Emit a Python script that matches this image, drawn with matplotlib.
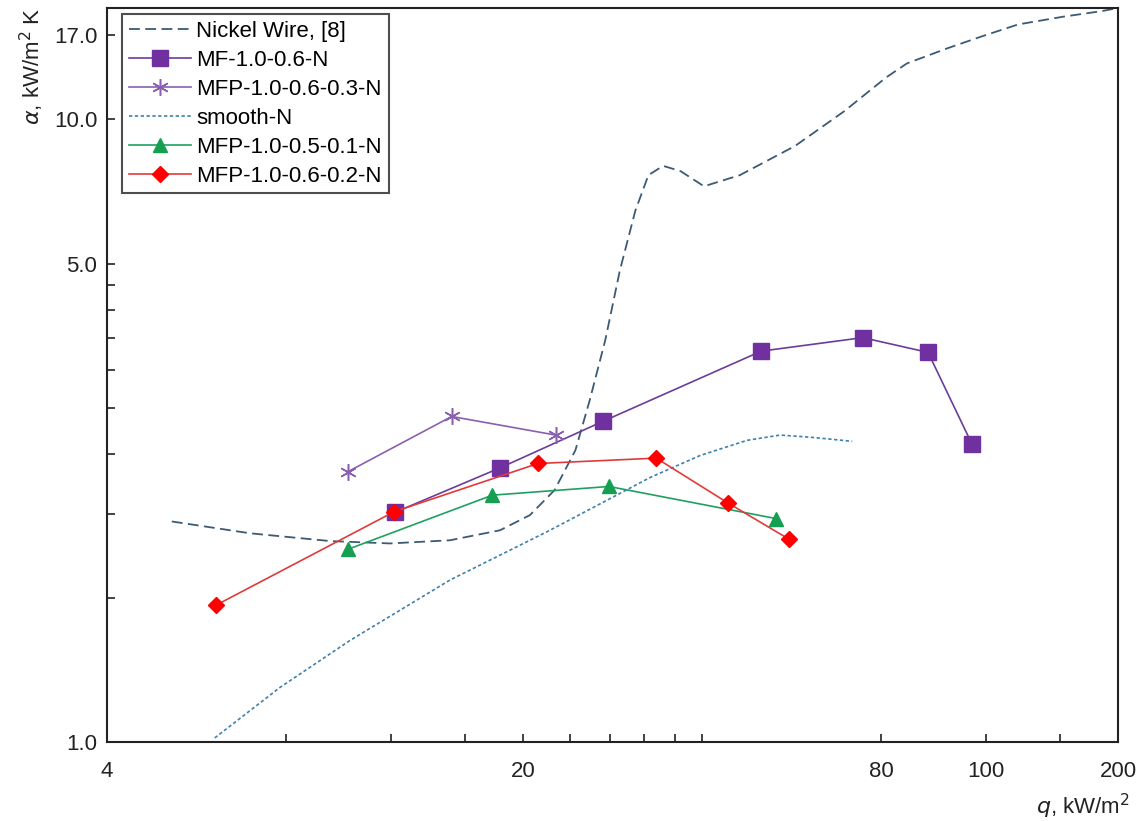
import matplotlib.pyplot as plt
from matplotlib.ticker import FixedLocator, FixedFormatter, NullFormatter

plt.rcParams['font.family'] = ['Liberation Sans', 'DejaVu Sans']

# Dados (q em kW/m2, alfa em kW/m2 K, escala log do original)
nickel_q = [5.14, 6.96, 9.48, 11.96, 15.08, 18.3, 20.55, 22.6, 24.5, 25.9, 27.5, 29.1,
            30.9, 32.5, 34.4, 36.8, 40.3, 46.3, 57.3, 69.3, 81.6, 88.4, 103.6, 118.7,
            135.9, 161.8, 188.0, 200.0]
nickel_a = [2.89, 2.73, 2.63, 2.60, 2.64, 2.77, 2.98, 3.36, 4.07, 5.18, 6.91, 9.67,
            12.9, 15.3, 16.0, 15.6, 14.5, 15.3, 17.6, 20.8, 24.5, 26.2, 28.2, 29.9,
            31.6, 32.8, 33.7, 34.2]

mf_q = [12.19, 18.3, 27.27, 50.3, 74.5, 95.9, 113.6]
mf_a = [3.02, 3.74, 4.68, 6.56, 7.00, 6.52, 4.20]

mfp03_q = [10.15, 15.18, 22.7]
mfp03_a = [3.67, 4.79, 4.38]

smooth_q = [6.07, 7.81, 10.24, 15.08, 22.2, 32.7, 39.7, 47.6, 54.1, 61.5, 71.5]
smooth_a = [1.02, 1.30, 1.63, 2.18, 2.77, 3.57, 3.97, 4.27, 4.38, 4.33, 4.25]

mfp01_q = [10.18, 17.77, 27.9, 53.3]
mfp01_a = [2.53, 3.28, 3.42, 2.93]

mfp02_q = [6.09, 12.16, 21.2, 33.5, 44.2, 56.1]
mfp02_a = [1.93, 3.03, 3.82, 3.92, 3.16, 2.65]

# Ticks do original
x_major = [4, 20, 80, 120, 200]
x_labels = ["4", "20", "80", "100", "200"]
x_minor = [8, 12, 16, 24, 28, 32, 36, 40, 160]
y_major = [1, 10, 20, 30]
y_labels = ["1.0", "5.0", "10.0", "17.0"]
y_minor = [2, 3, 4, 5, 6, 7, 8, 9]

fig = plt.figure(figsize=(11.44, 8.21), dpi=100)
ax = fig.add_axes([107 / 1144, 1 - 742 / 821, 1011 / 1144, 734 / 821])

ax.plot(nickel_q, nickel_a, linestyle=(0, (6, 3)), color="#3d5a73", lw=1.3,
        label="Nickel Wire, [8]")
ax.plot(mf_q, mf_a, color="#6a3d9a", lw=1.2, marker="s", ms=11,
        mfc="#7030a0", mec="#7030a0", label="MF-1.0-0.6-N")
ax.plot(mfp03_q, mfp03_a, color="#8a5fb0", lw=1.2, marker=(6, 2, 0), ms=12,
        mew=1.1, label="MFP-1.0-0.6-0.3-N")
ax.plot(smooth_q, smooth_a, linestyle=(0, (2, 1.5)), color="#3f80ac", lw=1.2,
        label="smooth-N")
ax.plot(mfp01_q, mfp01_a, color="#20a060", lw=1.2, marker="^", ms=10,
        mfc="#14a050", mec="#14a050", label="MFP-1.0-0.5-0.1-N")
ax.plot(mfp02_q, mfp02_a, color="#e03a3a", lw=1.2, marker="D", ms=8,
        mfc="#ff0000", mec="#ff0000", label="MFP-1.0-0.6-0.2-N")

ax.set_xscale("log")
ax.set_yscale("log")
ax.set_xlim(4, 200)
ax.set_ylim(1, 34.2)

ax.xaxis.set_major_locator(FixedLocator(x_major))
ax.xaxis.set_major_formatter(FixedFormatter(x_labels))
ax.xaxis.set_minor_locator(FixedLocator(x_minor))
ax.xaxis.set_minor_formatter(NullFormatter())
ax.yaxis.set_major_locator(FixedLocator(y_major))
ax.yaxis.set_major_formatter(FixedFormatter(y_labels))
ax.yaxis.set_minor_locator(FixedLocator(y_minor))
ax.yaxis.set_minor_formatter(NullFormatter())

ax.tick_params(which="both", direction="in", length=6, width=1.2, colors="#222222",
               labelsize=16)
ax.tick_params(axis="x", pad=14)
ax.tick_params(axis="y", pad=7)
for s in ax.spines.values():
    s.set_linewidth(1.5)
    s.set_color("#222222")

ax.set_xlabel("$q$, kW/m$^2$", fontsize=16, loc="right", color="#222222")
ax.xaxis.set_label_coords(1.012, -0.068)
ax.set_ylabel(r"$\alpha$, kW/m$^2$ K", fontsize=16, loc="top", labelpad=6, color="#222222")

leg = ax.legend(loc="upper left", bbox_to_anchor=(0.0148, 0.992), borderaxespad=0,
                fontsize=16, frameon=True, fancybox=False, handlelength=2.8,
                handletextpad=0.25, labelspacing=0.36, borderpad=0.3)
leg.get_frame().set_edgecolor("#222222")
leg.get_frame().set_linewidth(1.5)

fig.savefig("out.png", dpi=100)
